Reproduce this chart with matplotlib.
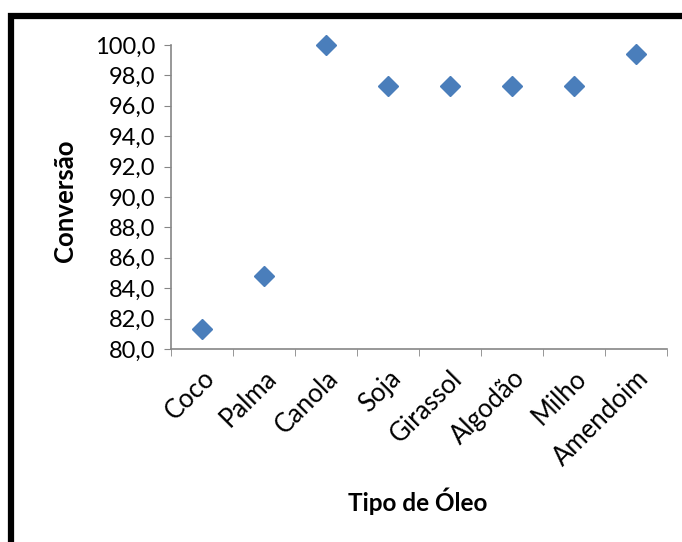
import matplotlib
matplotlib.use("Agg")
import matplotlib.pyplot as plt
from matplotlib.patches import Rectangle
from matplotlib.ticker import FixedLocator

categories = ["Coco", "Palma", "Canola", "Soja", "Girassol", "Algodão", "Milho", "Amendoim"]
conversao = [81.3, 84.8, 100.0, 97.3, 97.3, 97.3, 97.3, 99.4]
yticks = [80, 82, 84, 86, 88, 90, 92, 94, 96, 98, 100]
ytick_labels = ["80,0", "82,0", "84,0", "86,0", "88,0", "90,0", "92,0", "94,0", "96,0", "98,0", "100,0"]

W, H = 682, 542
fig = plt.figure(figsize=(W / 100, H / 100), dpi=100)
plt.rcParams['font.family'] = ['Lato', 'DejaVu Sans']

# outer black frame (right and bottom are cut off)
fig.patches.append(Rectangle((10.5 / W, -0.2), 1.2, 1 - 16 / H + 0.2, transform=fig.transFigure,
                             fill=False, edgecolor='black', linewidth=4.5, zorder=0))

ax = fig.add_axes([171 / W, 1 - 349 / H, (667 - 171) / W, (349 - 45) / H])
x = list(range(len(categories)))
ax.plot(x, conversao, linestyle='none', marker='D', markersize=10.5,
        color='#4A7EBB', markeredgecolor='#4A7EBB', clip_on=False)

ax.set_xlim(-0.5, len(categories) - 0.5)
ax.set_ylim(80, 100)
ax.set_yticks(yticks)
ax.set_yticklabels(ytick_labels, fontsize=17)
ax.set_xticks(x)
ax.set_xticklabels(categories, rotation=45, ha='right', va='top', rotation_mode='anchor', fontsize=18.5)
ax.xaxis.set_minor_locator(FixedLocator([i - 0.5 for i in range(len(categories) + 1)]))
ax.tick_params(axis='x', which='major', length=0, pad=12)
ax.tick_params(axis='x', which='minor', length=5, color='#868686', direction='out')
ax.tick_params(axis='y', length=5, color='#868686', direction='out', pad=6)

for s in ['top', 'right']:
    ax.spines[s].set_visible(False)
for s in ['left', 'bottom']:
    ax.spines[s].set_color('#868686')
    ax.spines[s].set_linewidth(1.2)

fig.text(65 / W, 1 - 201 / H, "Conversão", rotation=90, ha='center', va='center',
         fontsize=18.5, fontweight='bold')
fig.text(417.5 / W, 1 - 501 / H, "Tipo de Óleo", ha='center', va='center',
         fontsize=17.5, fontweight='bold')

fig.savefig("out.png", dpi=100)
